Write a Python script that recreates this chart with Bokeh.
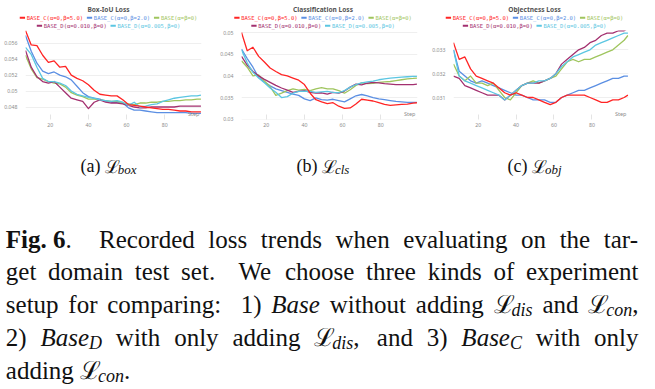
from bokeh.plotting import figure
from bokeh.layouts import column, row
from bokeh.models import Range1d, FixedTicker, Label, ColumnDataSource
from bokeh.core.properties import value
from bokeh.embed import file_html
from bokeh.resources import INLINE

# ---------------- data ----------------
STEPS = [7, 10, 13, 16, 19, 22, 25, 28, 31, 34, 37, 40, 43, 46, 49, 52,
         55, 58, 61, 64, 67, 70, 73, 76, 79, 82, 85, 88, 91, 94, 97, 99]

SERIES = ["BASE_C(α=0,β=5.0)", "BASE_C(α=0,β=2.0)", "BASE(α=β=0)",
          "BASE_D(α=0.010,β=0)", "BASE_D(α=0.005,β=0)"]
COLORS = ["#ff2424", "#5b8fe3", "#9fc55e", "#a3306f", "#5bc6e2"]

TITLES = ["Box-IoU Loss", "Classification Loss", "Objectness Loss"]

# Box-IoU loss
BOX_C_B5 = [.0576, .0558, .0557, .0545, .0536, .0538, .0530, .0531, .0520, .0516,
            .0513, .0508, .0501, .0496, .0495, .0494, .0494, .0489, .0483, .0482,
            .0481, .0480, .0479, .0478, .0477, .0477, .0476, .0475, .0475, .0474,
            .0474, .0474]
BOX_C_B2 = [.0570, .0550, .0535, .0525, .0522, .0524, .0520, .0518, .0514, .0506,
            .0498, .0493, .0491, .0490, .0487, .0486, .0486, .0485, .0479, .0476,
            .0476, .0475, .0474, .0473, .0473, .0473, .0473, .0473, .0473, .0472,
            .0472, .0472]
BOX_BASE = [.0545, .0528, .0517, .0515, .0512, .0510, .0509, .0505, .0498, .0495,
            .0493, .0490, .0490, .0489, .0488, .0487, .0487, .0485, .0484, .0483,
            .0485, .0485, .0486, .0486, .0487, .0487, .0488, .0488, .0489, .0489,
            .0490, .0490]
BOX_D_010 = [.0551, .0530, .0518, .0512, .0510, .0512, .0505, .0498, .0491, .0489,
             .0487, .0478, .0486, .0489, .0486, .0485, .0485, .0484, .0482, .0480,
             .0479, .0479, .0480, .0480, .0480, .0480, .0480, .0481, .0481, .0481,
             .0481, .0481]
BOX_D_005 = [.0555, .0546, .0530, .0516, .0512, .0512, .0510, .0507, .0500, .0496,
             .0494, .0492, .0491, .0489, .0488, .0487, .0488, .0486, .0482, .0486,
             .0480, .0481, .0483, .0484, .0487, .0489, .0491, .0492, .0493, .0494,
             .0494, .0495]

# Classification loss
CLS_C_B5 = [.0500, .0458, .0466, .0445, .0432, .0418, .0410, .0403, .0400, .0395,
            .0390, .0380, .0360, .0345, .0340, .0336, .0338, .0330, .0325, .0326,
            .0335, .0346, .0344, .0342, .0338, .0334, .0332, .0333, .0334, .0335,
            .0337, .0338]
CLS_C_B2 = [.0462, .0440, .0420, .0396, .0386, .0377, .0370, .0366, .0362, .0358,
            .0355, .0347, .0343, .0349, .0345, .0344, .0346, .0343, .0340, .0347,
            .0354, .0357, .0354, .0350, .0347, .0345, .0343, .0341, .0340, .0339,
            .0339, .0339]
CLS_BASE = [.0435, .0420, .0400, .0402, .0388, .0375, .0355, .0360, .0366, .0370,
            .0367, .0369, .0366, .0370, .0373, .0370, .0370, .0366, .0360, .0368,
            .0378, .0384, .0382, .0383, .0385, .0386, .0387, .0389, .0391, .0393,
            .0394, .0395]
CLS_D_010 = [.0445, .0425, .0410, .0400, .0392, .0385, .0378, .0372, .0367, .0362,
             .0364, .0366, .0362, .0360, .0361, .0358, .0362, .0360, .0365, .0374,
             .0381, .0379, .0383, .0385, .0384, .0382, .0381, .0380, .0380, .0380,
             .0380, .0381]
CLS_D_005 = [.0460, .0430, .0408, .0395, .0384, .0372, .0362, .0350, .0352, .0360,
             .0364, .0365, .0364, .0362, .0363, .0364, .0362, .0361, .0366, .0374,
             .0380, .0384, .0386, .0388, .0391, .0393, .0395, .0396, .0397, .0398,
             .0399, .0399]

# Objectness loss
OBJ_C_B5 = [.0333, .0326, .0327, .0322, .0319, .0318, .0317, .0316, .0314, .0312,
            .0311, .0312, .0311, .0310, .0310, .0309, .0308, .0307, .0308, .0310,
            .0311, .0311, .0311, .0311, .0310, .0309, .0308, .0308, .0309, .0309,
            .0310, .0311]
OBJ_C_B2 = [.0330, .0321, .0319, .0317, .0316, .0317, .0316, .0315, .0314, .0313,
            .0312, .0311, .0311, .0310, .0309, .0309, .0309, .0308, .0308, .0310,
            .0311, .0312, .0313, .0313, .0314, .0315, .0316, .0317, .0318, .0318,
            .0319, .0319]
OBJ_BASE = [.0324, .0319, .0317, .0319, .0316, .0316, .0315, .0316, .0313, .0310,
            .0309, .0312, .0315, .0316, .0317, .0316, .0317, .0318, .0319, .0322,
            .0325, .0326, .0325, .0326, .0326, .0327, .0328, .0329, .0330, .0332,
            .0334, .0336]
OBJ_D_010 = [.0319, .0318, .0315, .0314, .0313, .0312, .0311, .0311, .0311, .0309,
             .0311, .0313, .0315, .0316, .0316, .0316, .0317, .0318, .0320, .0324,
             .0326, .0328, .0330, .0331, .0333, .0334, .0336, .0337, .0337, .0338,
             .0338, .0339]
OBJ_D_005 = [.0330, .0319, .0317, .0316, .0315, .0314, .0313, .0312, .0311, .0309,
             .0311, .0313, .0315, .0316, .0316, .0317, .0317, .0318, .0320, .0323,
             .0325, .0327, .0328, .0329, .0330, .0332, .0333, .0334, .0335, .0336,
             .0337, .0337]

X_TICKS = [20, 40, 60, 80]
BOX_TICKS = [0.048, 0.05, 0.052, 0.054, 0.056]
BOX_LABELS = ["0.048", "0.05", "0.052", "0.054", "0.056"]
CLS_TICKS = [0.03, 0.035, 0.04, 0.045, 0.05]
CLS_LABELS = ["0.03", "0.035", "0.04", "0.045", "0.05"]
OBJ_TICKS = [0.031, 0.032, 0.033]
OBJ_LABELS = ["0.031", "0.032", "0.033"]

SUBCAPS = [("(a) ", "box"), ("(b) ", "cls"), ("(c) ", "obj")]

CAPTION_LINES = [
    [[("b", "Fig. 6"), ("r", ".")], "Recorded", "loss", "trends", "when",
     "evaluating", "on", "the", "tar-"],
    ["get", "domain", "test", "set.", "We", "choose", "three", "kinds", "of",
     "experiment"],
    ["setup", "for", "comparing:", "1)", [("i", "Base")], "without", "adding",
     [("L", "ℒ"), ("s", "dis")], "and", [("L", "ℒ"), ("s", "con"), ("r", ",")]],
    ["2)", [("i", "Base"), ("s", "D")], "with", "only", "adding",
     [("L", "ℒ"), ("s", "dis"), ("r", ",")], "and", "3)",
     [("i", "Base"), ("s", "C")], "with", "only"],
    ["adding", [("L", "ℒ"), ("s", "con"), ("r", ".")]],
]

# ---------------- layout constants (page pixel coordinates, 8px margin) ----------------
PAGE_L, PAGE_R = 8, 647
PAGE_T, PAGE_B = 8, 397
HDR_B, ROW_B = 38, 140
PANEL_W = [216, 213, 210]
BORDER_L = [25, 25, 23]
BORDER_R = [15, 12, 11]
PANEL_CENTERS = [116, 330.5, 542]
X_RANGE = (7, 99.3)

TICK_FONT = "Noto Sans"
TICK_COLOR = "#8c8c8c"


def make_plot(idx, data, yr, ticks, labels):
    p = figure(width=PANEL_W[idx], height=ROW_B - HDR_B, title=None,
               x_range=Range1d(*X_RANGE), y_range=Range1d(*yr),
               output_backend="svg", toolbar_location=None,
               min_border_left=BORDER_L[idx], min_border_right=BORDER_R[idx],
               min_border_top=0, min_border_bottom=13)
    p.outline_line_color = None
    p.background_fill_color = "white"
    p.border_fill_color = "white"
    for i in [1, 2, 3, 4, 0]:
        p.line(STEPS, data[i], line_color=COLORS[i], line_width=1.3,
               line_join="round")
    xa = p.xaxis[0]
    xa.ticker = FixedTicker(ticks=X_TICKS)
    xa.axis_line_color = None
    xa.major_tick_in = 5
    xa.major_tick_out = 0
    xa.major_tick_line_color = "#e4e4e4"
    xa.minor_tick_line_color = None
    xa.major_label_text_font = TICK_FONT
    xa.major_label_text_font_size = "5.2px"
    xa.major_label_text_color = TICK_COLOR
    xa.major_label_standoff = 3
    ya = p.yaxis[0]
    ya.ticker = FixedTicker(ticks=ticks)
    ya.major_label_overrides = {t: l for t, l in zip(ticks, labels)}
    ya.axis_line_color = None
    ya.major_tick_line_color = None
    ya.minor_tick_line_color = None
    ya.major_label_text_font = TICK_FONT
    ya.major_label_text_font_size = "5.2px"
    ya.major_label_text_color = TICK_COLOR
    ya.major_label_standoff = 2
    p.xgrid.grid_line_color = None
    p.ygrid.grid_line_color = "#efefef"
    p.add_layout(Label(x=X_RANGE[1], y=yr[0], x_offset=-2, y_offset=2,
                       text="Step", text_align="right", text_baseline="bottom",
                       text_font=TICK_FONT, text_font_size="5.5px",
                       text_color=TICK_COLOR))
    return p


p1 = make_plot(0, [BOX_C_B5, BOX_C_B2, BOX_BASE, BOX_D_010, BOX_D_005],
               (0.04643, 0.05761), BOX_TICKS, BOX_LABELS)
p2 = make_plot(1, [CLS_C_B5, CLS_C_B2, CLS_BASE, CLS_D_010, CLS_D_005],
               (0.02993, 0.05047), CLS_TICKS, CLS_LABELS)
p3 = make_plot(2, [OBJ_C_B5, OBJ_C_B2, OBJ_BASE, OBJ_D_010, OBJ_D_005],
               (0.030078, 0.03381), OBJ_TICKS, OBJ_LABELS)

# ---------------- header: titles + legends ----------------
hdr = figure(width=PAGE_R - PAGE_L, height=HDR_B - PAGE_T, x_range=Range1d(PAGE_L, PAGE_R),
             y_range=Range1d(HDR_B, PAGE_T), output_backend="svg", toolbar_location=None,
             x_axis_type=None, y_axis_type=None, min_border=0, title=None)
hdr.outline_line_color = None
hdr.grid.visible = False

hdr.text(x=PANEL_CENTERS, y=[16.7] * 3, text=TITLES, text_align="center",
         text_baseline="middle", text_font=value("Noto Sans"),
         text_font_size="6.6px", text_font_style="bold", text_color="#555555")

CW, MK, G1, G2 = 3.3, 5.3, 1.7, 4.0
ROWS = [[0, 1, 2], [3, 4]]
ROW_Y = [25.3, 33.3]
seg = dict(x0=[], x1=[], y=[], c=[])
lab = dict(x=[], y=[], t=[], c=[])
for cx in PANEL_CENTERS:
    for items, ry in zip(ROWS, ROW_Y):
        w = sum(MK + G1 + len(SERIES[i]) * CW for i in items) + G2 * (len(items) - 1)
        x = cx - w / 2
        for i in items:
            seg["x0"].append(x); seg["x1"].append(x + MK)
            seg["y"].append(ry); seg["c"].append(COLORS[i])
            lab["x"].append(x + MK + G1); lab["y"].append(ry)
            lab["t"].append(SERIES[i]); lab["c"].append(COLORS[i])
            x += MK + G1 + len(SERIES[i]) * CW + G2
hdr.segment(x0="x0", y0="y", x1="x1", y1="y", line_color="c", line_width=2,
            source=ColumnDataSource(seg))
hdr.text(x="x", y="y", text="t", text_color="c", text_align="left",
         text_baseline="middle", text_font=value("DejaVu Sans Mono"),
         text_font_size="5.5px", source=ColumnDataSource(lab))

# ---------------- caption ----------------
cap = figure(width=PAGE_R - PAGE_L, height=PAGE_B - ROW_B, x_range=Range1d(PAGE_L, PAGE_R),
             y_range=Range1d(PAGE_B, ROW_B), output_backend="svg", toolbar_location=None,
             x_axis_type=None, y_axis_type=None, min_border=0, title=None)
cap.outline_line_color = None
cap.grid.visible = False

W_R = {' ': 250, '(': 333, ')': 333, ',': 250, '-': 333, '.': 250, ':': 278,
       'a': 444, 'b': 500, 'c': 444, 'd': 500, 'e': 444, 'f': 333, 'g': 500,
       'h': 500, 'i': 278, 'j': 278, 'k': 500, 'l': 278, 'm': 778, 'n': 500,
       'o': 500, 'p': 500, 'q': 500, 'r': 333, 's': 389, 't': 278, 'u': 500,
       'v': 500, 'w': 722, 'x': 500, 'y': 500, 'z': 444, 'R': 667, 'W': 944}
W_B = {'F': 611, 'i': 278, 'g': 500, '.': 250, ' ': 250}
W_I = {'B': 611, 'a': 500, 's': 389, 'e': 444, 'd': 500, 'i': 278, 'c': 444,
       'o': 500, 'n': 500, 'b': 500, 'x': 444, 'l': 278, 'j': 278, 'C': 667,
       'D': 722}
STYLE = {"r": ("Liberation Serif", "normal", 1.0, 0.0, W_R),
         "b": ("Liberation Serif", "bold", 1.0, 0.0, W_B),
         "i": ("Liberation Serif", "italic", 1.0, 0.0, W_I),
         "s": ("Liberation Serif", "italic", 0.72, 0.22, W_I),
         "L": ("DejaVu Serif", "normal", 1.0, 0.0, None)}


def seg_width(kind, txt, size):
    font, style, scale, dy, table = STYLE[kind]
    if table is None:
        return 0.72 * size * len(txt)
    return sum(table.get(ch, 500) for ch in txt) / 1000.0 * size * scale


groups = {}


def put(kind, txt, x, base, size):
    font, style, scale, dy, table = STYLE[kind]
    key = (kind, round(size * scale, 2))
    g = groups.setdefault(key, dict(x=[], y=[], t=[]))
    g["x"].append(x)
    g["y"].append(base + dy * size)
    g["t"].append(txt)


def norm(word):
    return [("r", word)] if isinstance(word, str) else word


def word_width(word, size):
    return sum(seg_width(k, t, size) for k, t in norm(word))


def place_word(word, x, base, size):
    for k, t in norm(word):
        put(k, t, x, base, size)
        x += seg_width(k, t, size)


# sub-captions
SUB_SIZE = 18
for (lead, sub), cx in zip(SUBCAPS, PANEL_CENTERS):
    word = [("r", lead), ("L", "ℒ"), ("s", sub)]
    w = word_width(word, SUB_SIZE)
    place_word(word, cx - w / 2, 173.5, SUB_SIZE)

# figure caption (justified)
CAP_SIZE = 25
CAP_LEFT, CAP_RIGHT = 13.3, 646
BASELINES = [246.5, 279.4, 312.3, 345.2, 378.1]
for li, (line, base) in enumerate(zip(CAPTION_LINES, BASELINES)):
    words = [norm(w) for w in line]
    widths = [word_width(w, CAP_SIZE) for w in words]
    weights = []
    for w in words[:-1]:
        last = w[-1][1][-1]
        weights.append(2.0 if last in ".:" else (1.25 if last == "," else 1.0))
    nat = 0.25 * CAP_SIZE
    if li == len(CAPTION_LINES) - 1:
        gaps = [nat for _ in weights]
    else:
        extra = (CAP_RIGHT - CAP_LEFT) - sum(widths) - sum(nat * wt for wt in weights)
        gaps = [nat * wt + extra * wt / sum(weights) for wt in weights]
    x = CAP_LEFT
    for i, w in enumerate(words):
        place_word(w, x, base, CAP_SIZE)
        x += widths[i] + (gaps[i] if i < len(gaps) else 0)

for (kind, sz), g in groups.items():
    font, style, scale, dy, table = STYLE[kind]
    cap.text(x=g["x"], y=g["y"], text=g["t"], text_align="left",
             text_baseline="alphabetic", text_font=value(font),
             text_font_style=style, text_font_size=value(f"{sz}px"),
             text_color="#111111")

layout = column(hdr, row(p1, p2, p3), cap)
open("out.html", "w").write(file_html(layout, INLINE))
